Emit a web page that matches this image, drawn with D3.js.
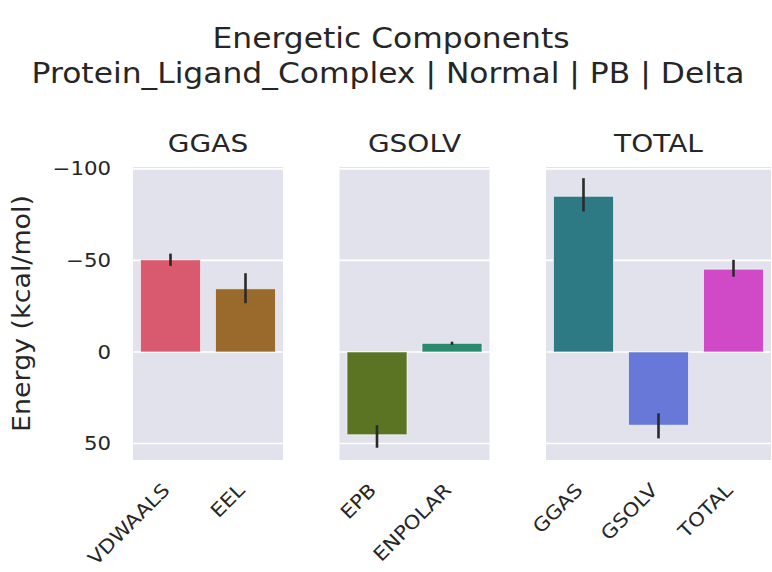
<!DOCTYPE html>
<html>
<head>
<meta charset="utf-8">
<script src="https://cdn.jsdelivr.net/npm/d3@7"></script>
<style>
  body { margin: 0; background: #fff; }
  text { font-family: "DejaVu Sans", sans-serif; fill: #262626; }
</style>
</head>
<body>
<div id="chart"></div>
<script>
// Energy terms, one bar each, grouped by facet
const terms = ["VDWAALS", "EEL", "EPB", "ENPOLAR", "GGAS", "GSOLV", "TOTAL"]
const groups = ["GGAS", "GGAS", "GSOLV", "GSOLV", "TOTAL", "TOTAL", "TOTAL"]
const facets = ["GGAS", "GSOLV", "TOTAL"]
const energies = [-50.3, -34.5, 45.2, -4.7, -85.0, 40.0, -45.2]
const ciLow = [-53.7, -43.0, 40.0, -5.6, -94.9, 33.5, -50.3]
const ciHigh = [-47.0, -26.6, 52.3, -3.9, -76.7, 47.2, -41.1]
const colors = ["#d9596e", "#9a6a2c", "#5a7424", "#2a8a6e", "#2d7a84", "#6878d8", "#d04ac8"]
const yTicks = [-100, -50, 0, 50]

let width = 772
let height = 572
let sx = 1.12 // text in the reference is a little wider than DejaVu

let svg = d3.select("#chart").append("svg")
    .attr("width", width)
    .attr("height", height)

// shared y scale, inverted (negative energies on top)
let plotTop = 167, plotBottom = 460
let y = d3.scaleLinear().domain([-101, 59]).range([plotTop, plotBottom])

// titles
svg.append("text").attr("transform", "translate(391,48) scale(" + sx + ",1)")
    .attr("text-anchor", "middle")
    .style("font-size", "28px").text("Energetic Components")
svg.append("text").attr("transform", "translate(388,83) scale(" + sx + ",1)")
    .attr("text-anchor", "middle")
    .style("font-size", "28px").text("Protein_Ligand_Complex | Normal | PB | Delta")

// y label
svg.append("text")
    .attr("transform", "translate(30," + (plotTop + plotBottom) / 2 + ") rotate(-90) scale(" + sx + ",1)")
    .attr("text-anchor", "middle")
    .style("font-size", "24px")
    .text("Energy (kcal/mol)")

let step = 75, gap = 56.5
let x0 = 133

facets.forEach((facet, fi) => {
  let idx = d3.range(terms.length).filter(i => groups[i] == facet)
  let w = step * idx.length

  let x = d3.scaleBand()
      .domain(idx.map(i => terms[i]))
      .range([x0, x0 + w])
      .paddingInner(0.2)
      .paddingOuter(0.1)

  let g = svg.append("g")

  g.append("rect")
      .attr("x", x0).attr("y", plotTop)
      .attr("width", w).attr("height", plotBottom - plotTop)
      .attr("fill", "#e2e2ed")

  // grid lines
  g.selectAll(".grid").data(yTicks).enter().append("line")
      .attr("x1", x0).attr("x2", x0 + w)
      .attr("y1", d => y(d)).attr("y2", d => y(d))
      .attr("stroke", "#fff").attr("stroke-width", 1.6)

  // bars
  g.selectAll(".bar").data(idx).enter().append("rect")
      .attr("x", i => x(terms[i]))
      .attr("width", x.bandwidth())
      .attr("y", i => Math.min(y(0), y(energies[i])))
      .attr("height", i => Math.abs(y(energies[i]) - y(0)))
      .attr("fill", i => colors[i])
      .attr("stroke", "#ffffff").attr("stroke-opacity", 0.6).attr("stroke-width", 1)

  // error bars
  g.selectAll(".err").data(idx).enter().append("line")
      .attr("x1", i => x(terms[i]) + x.bandwidth() / 2)
      .attr("x2", i => x(terms[i]) + x.bandwidth() / 2)
      .attr("y1", i => y(ciLow[i]))
      .attr("y2", i => y(ciHigh[i]))
      .attr("stroke", "#2a2a2a").attr("stroke-width", 2.6)

  // facet title
  g.append("text").attr("transform", "translate(" + (x0 + w / 2) + ",152) scale(" + sx + ",1)")
      .attr("text-anchor", "middle").style("font-size", "25px").text(facet)

  // rotated x tick labels, right edge of their box at the tick
  g.selectAll(".xl").data(idx).enter().append("text")
      .attr("transform", i => "translate(" + (x(terms[i]) + x.bandwidth() / 2 - 9) + "," + (plotBottom + 22) + ") rotate(-45) scale(" + sx + ",1)")
      .attr("text-anchor", "end")
      .attr("dy", "0.7em")
      .style("font-size", "19px")
      .text(i => terms[i])

  // y tick labels only on first facet
  if (fi == 0) {
    let axis = d3.axisLeft(y).tickValues(yTicks).tickSize(0).tickPadding(0)
    let ax = svg.append("g").attr("transform", "translate(" + (x0 - 22) + ",0)").call(axis)
    ax.select(".domain").remove()
    ax.selectAll("text")
        .attr("transform", "scale(" + sx + ",1)")
        .style("font-size", "19px").style("font-family", "DejaVu Sans").attr("fill", "#262626")
  }

  x0 += w + gap
})
</script>
</body>
</html>
